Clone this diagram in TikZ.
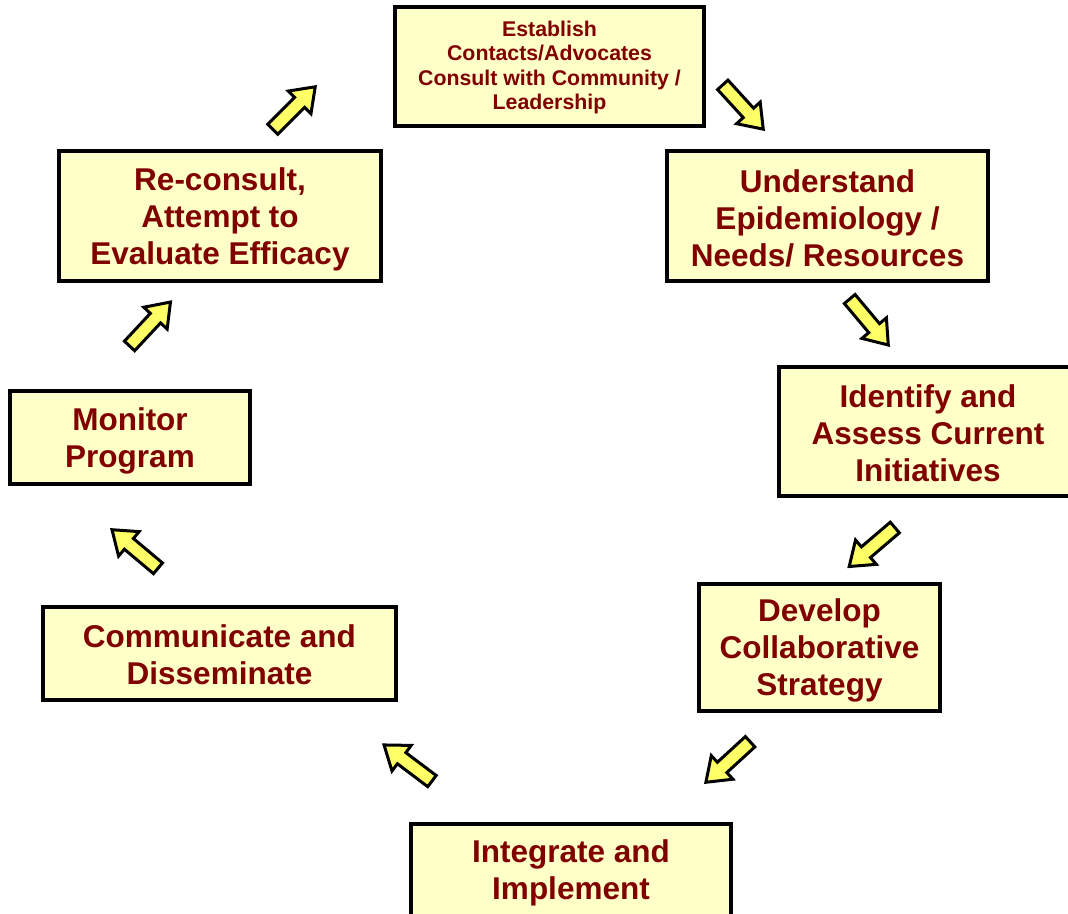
\documentclass[tikz,border=0pt]{standalone}
\usepackage{fontspec}
\setmainfont{Liberation Sans}
\definecolor{boxfill}{HTML}{FFFFC8}
\definecolor{txtred}{HTML}{800000}
\definecolor{arrowyellow}{HTML}{FFFF66}
\tikzset{
  stepbox/.style={draw=black, fill=boxfill, line width=4pt, inner sep=0pt},
  bigtext/.style={align=center, text=txtred, inner sep=0pt,
    font=\bfseries\fontsize{31.5}{37}\selectfont},
  smalltext/.style={align=center, text=txtred, inner sep=0pt,
    font=\bfseries\fontsize{21.3}{24.5}\selectfont},
  barrow/.style={draw=black, fill=arrowyellow, line width=3pt, line join=miter}
}
\newcommand{\blockarrow}[3]{%
  \draw[barrow, shift={(#1,#2)}, rotate=#3]
    (-30pt,-7pt) -- (8pt,-7pt) -- (8pt,-16pt) -- (30pt,0pt) -- (8pt,16pt) -- (8pt,7pt) -- (-30pt,7pt) -- cycle;}
\begin{document}
\begin{tikzpicture}[x=1pt,y=-1pt]
\useasboundingbox (0,0) rectangle (1068,913);
\clip (0,0) rectangle (1068,913);
\node[stepbox, minimum width=309pt, minimum height=119pt] (est) at (549.5,66.5) {};
\node[smalltext] (est-t) at ([yshift=-1pt]est.center)
  {Establish\\Contacts/Advocates\\Consult with Community /\\Leadership};
\node[stepbox, minimum width=321pt, minimum height=130pt] (und) at (827.5,216) {};
\node[bigtext] (und-t) at ([yshift=-2pt]und.center)
  {Understand\\Epidemiology /\\Needs/ Resources};
\node[stepbox, minimum width=298pt, minimum height=129pt] (ide) at (928,431.5) {};
\node[bigtext] (ide-t) at ([yshift=-2pt]ide.center)
  {Identify and\\Assess Current\\Initiatives};
\node[stepbox, minimum width=241pt, minimum height=127pt] (dev) at (819.5,647.5) {};
\node[bigtext] (dev-t) at ([yshift=-3pt]dev.center)
  {Develop\\Collaborative\\Strategy};
\node[stepbox, minimum width=320pt, minimum height=92pt] (int) at (571,870) {};
\node[bigtext] (int-t) at ([yshift=-3pt]int.center)
  {Integrate and\\Implement};
\node[stepbox, minimum width=353pt, minimum height=93pt] (com) at (219.5,653.5) {};
\node[bigtext] (com-t) at ([yshift=-1pt]com.center)
  {Communicate and\\Disseminate};
\node[stepbox, minimum width=240pt, minimum height=93pt] (mon) at (130,437.5) {};
\node[bigtext] (mon-t) at ([yshift=-3pt]mon.center)
  {Monitor\\Program};
\node[stepbox, minimum width=322pt, minimum height=130pt] (rec) at (220,216) {};
\node[bigtext] (rec-t) at ([yshift=-3pt]rec.center)
  {Re-consult,\\Attempt to\\Evaluate Efficacy};
\blockarrow{743}{107}{-47.6}
\blockarrow{869}{322}{-50}
\blockarrow{872}{547}{-139.5}
\blockarrow{728}{762}{-137.5}
\blockarrow{408}{763}{143}
\blockarrow{135}{549}{140}
\blockarrow{150}{324}{47}
\blockarrow{294}{108}{45}
\end{tikzpicture}
\end{document}
